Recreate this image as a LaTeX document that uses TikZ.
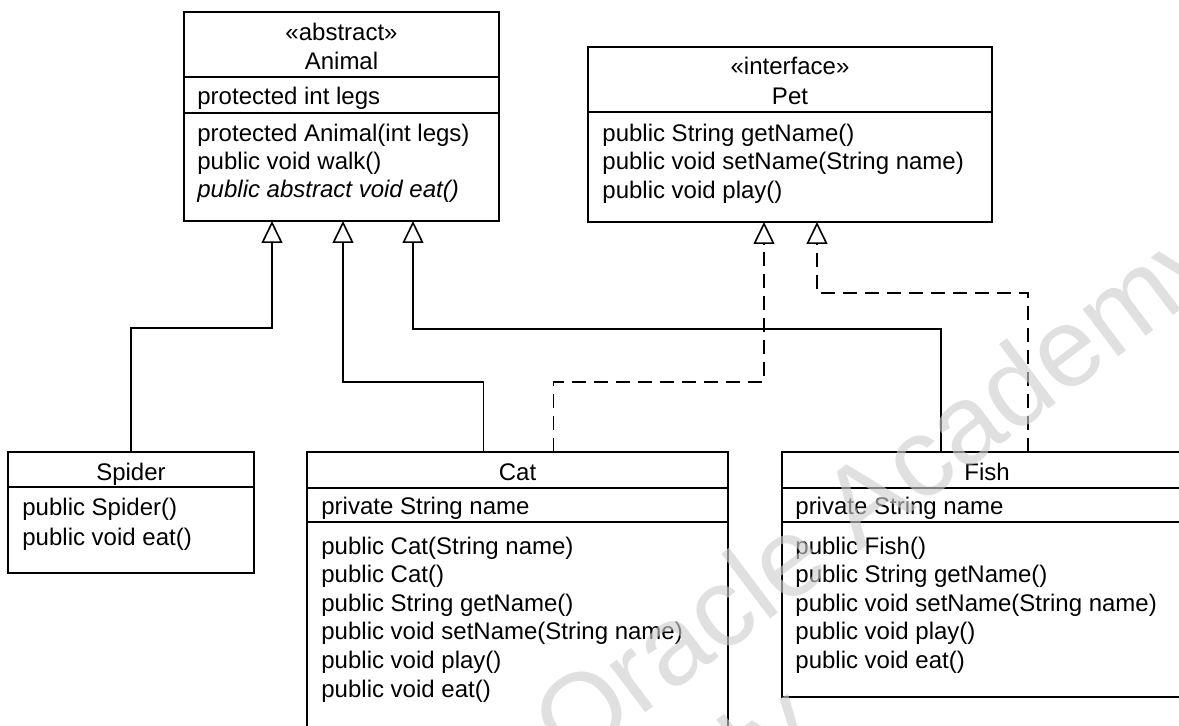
\documentclass[tikz,border=0pt]{standalone}
\usepackage{fontspec}
\setmainfont{Liberation Sans}
\usetikzlibrary{arrows.meta,calc}
\definecolor{wmgray}{RGB}{205,205,205}
\begin{document}
\begin{tikzpicture}[x=0.5pt,y=-0.5pt,
  box/.style={draw, line width=0.8pt, anchor=north west, inner sep=0pt, outer sep=0pt},
  txt/.style={anchor=base west, inner sep=0pt, font=\fontsize{12}{14}\selectfont},
  ttl/.style={anchor=base, inner sep=0pt, font=\fontsize{12}{14}\selectfont},
  divline/.style={line width=0.8pt},
  gen/.style={line width=0.8pt, -{Triangle[open,width=10.5pt,length=11pt]}},
  realz/.style={gen, dash pattern=on 7pt off 4pt},
  wmark/.style={anchor=base west, inner sep=0pt, rotate=37, text=wmgray, text opacity=0.62, font=\fontsize{56}{64}\selectfont}
]
\useasboundingbox (0,0) rectangle (1179,726);
\clip (0,0) rectangle (1179,726);

% class boxes
\node[box, minimum width=157.5pt, minimum height=104.5pt] (animal) at (184,12) {};
\node[box, minimum width=202pt, minimum height=87.5pt] (pet) at (588,47) {};
\node[box, minimum width=123pt, minimum height=60.5pt] (spider) at (8,452) {};
\node[box, minimum width=210.5pt, minimum height=150pt] (cat) at (307,452) {};
\node[box, minimum width=205pt, minimum height=122.5pt] (fish) at (782,452) {};

% compartment dividers
\draw[divline] (184,77) -- (499,77);
\draw[divline] (184,113) -- (499,113);
\draw[divline] (588,112) -- (992,112);
\draw[divline] (8,487) -- (254,487);
\draw[divline] (307,488) -- (728,488);
\draw[divline] (307,522) -- (728,522);
\draw[divline] (782,488) -- (1192,488);
\draw[divline] (782,522) -- (1192,522);

% Animal
\node[ttl] (a0) at (341.5,41) {«abstract»};
\node[ttl] (a1) at (341.5,70) {Animal};
\node[txt] (a2) at (197,105) {protected int legs};
\node[txt] (a3) at (197,142) {protected Animal(int legs)};
\node[txt] (a4) at (197,170) {public void walk()};
\node[txt] (a5) at (197,198) {\itshape public abstract void eat()};

% Pet
\node[ttl] (p0) at (790,75) {«interface»};
\node[ttl] (p1) at (790,105) {Pet};
\node[txt] (p2) at (602,142) {public String getName()};
\node[txt] (p3) at (602,170) {public void setName(String name)};
\node[txt] (p4) at (602,199) {public void play()};

% Spider
\node[ttl] (s0) at (131,481) {Spider};
\node[txt] (s1) at (22,516) {public Spider()};
\node[txt] (s2) at (22,546) {public void eat()};

% Cat
\node[ttl] (c0) at (517.5,481) {Cat};
\node[txt] (c1) at (321,515) {private String name};
\node[txt] (c2) at (321,555) {public Cat(String name)};
\node[txt] (c3) at (321,583) {public Cat()};
\node[txt] (c4) at (321,612) {public String getName()};
\node[txt] (c5) at (321,640) {public void setName(String name)};
\node[txt] (c6) at (321,669) {public void play()};
\node[txt] (c7) at (321,698) {public void eat()};

% Fish
\node[ttl] (f0) at (987,481) {Fish};
\node[txt] (f1) at (795,515) {private String name};
\node[txt] (f2) at (795,555) {public Fish()};
\node[txt] (f3) at (795,583) {public String getName()};
\node[txt] (f4) at (795,612) {public void setName(String name)};
\node[txt] (f5) at (795,640) {public void play()};
\node[txt] (f6) at (795,669) {public void eat()};

% generalization
\draw[gen] (spider.north) -- ++(0,-124) -| ($(animal.south)+(-69.5,0)$);
\draw[gen] ($(cat.north)+(-34,0)$) -- ++(0,-70) -| ($(animal.south)+(1.5,0)$);
\draw[gen] ($(fish.north)+(-46,0)$) -- ++(0,-123) -| ($(animal.south)+(71.5,0)$);

% realization
\draw[realz] ($(cat.north)+(36,0)$) -- ++(0,-70) -| ($(pet.south)+(-26,0)$);
\draw[realz] ($(fish.north)+(41,0)$) -- ++(0,-159) -| ($(pet.south)+(27,0)$);

% watermark
\node[wmark] (wm1) at (570,770) {Oracle Academy};
\node[wmark] (wm2) at (640,880) {Only};
\end{tikzpicture}
\end{document}
